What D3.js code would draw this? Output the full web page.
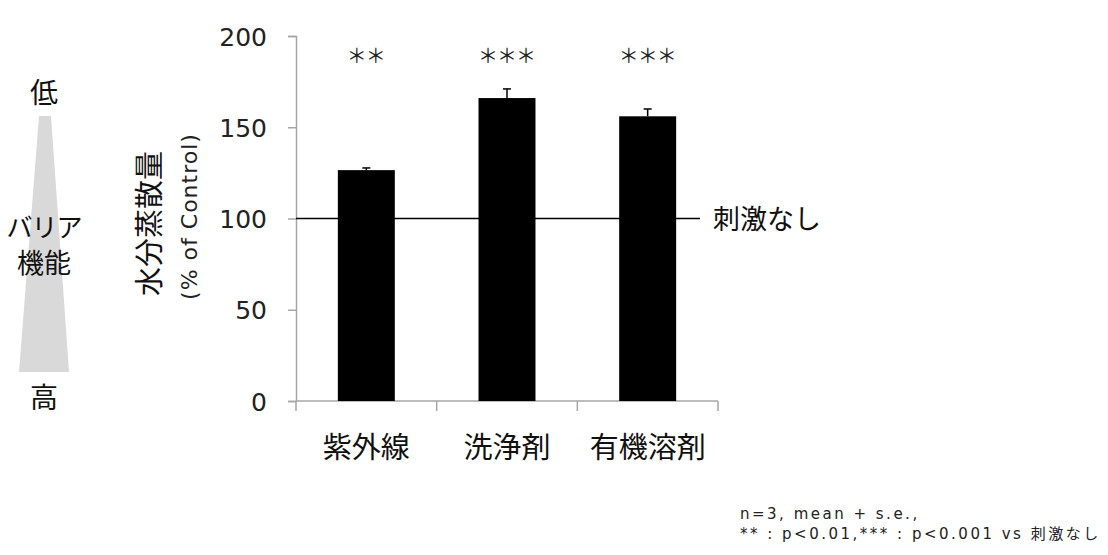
<!DOCTYPE html>
<html><head><meta charset="utf-8">
<script src="https://cdn.jsdelivr.net/npm/d3@7"></script>
<style>body{margin:0;background:#fff}svg{display:block}.cjk{font-family:"Noto Sans CJK JP","Noto Sans",sans-serif}.lat{font-family:"DejaVu Sans","Noto Sans CJK JP",sans-serif}</style>
</head><body><svg width="1108" height="555"></svg>
<script>
const categories = ["紫外線", "洗浄剤", "有機溶剤"];
const means = [126.5, 166, 156];
const errors = [1.2, 5, 4];
const stars = ["**", "***", "***"];
const yTicks = [0, 50, 100, 150, 200];
const baseline = 100;

const svg = d3.select("svg");
const x = d3.scaleBand().domain(categories).range([296, 718]).padding(0);
const y = d3.scaleLinear().domain([0, 200]).range([401, 36]);
const barW = x.bandwidth() * 0.405;

// y axis
const ya = svg.append("g").attr("transform", "translate(296,0)")
  .call(d3.axisLeft(y).tickValues(yTicks).tickSize(8).tickPadding(21));
ya.attr("font-family", null).attr("font-size", null);
ya.select(".domain").attr("stroke", "#a6a6a6").attr("stroke-width", 1.5);
ya.selectAll(".tick line").attr("stroke", "#a6a6a6").attr("stroke-width", 1.5);
ya.selectAll(".tick text").attr("class", "lat").attr("font-size", 25).attr("fill", "#222").attr("dy", "0.36em");

// x axis
const xa = svg.append("g").attr("transform", `translate(0,${y(0)})`);
xa.append("line").attr("x1", 296).attr("x2", 718).attr("stroke", "#a6a6a6").attr("stroke-width", 1.5);
const edges = [296].concat(categories.map(c => x(c) + x.bandwidth()));
xa.selectAll(".xt").data(edges).join("line")
  .attr("x1", d => d).attr("x2", d => d).attr("y1", 0).attr("y2", 10)
  .attr("stroke", "#a6a6a6").attr("stroke-width", 1.5);
xa.selectAll(".xl").data(categories).join("text").attr("class", "cjk")
  .attr("x", d => x(d) + x.bandwidth() / 2).attr("y", 57)
  .attr("text-anchor", "middle").attr("font-size", 29).attr("fill", "#111").text(d => d);

// bars
svg.selectAll(".bar").data(categories).join("rect")
  .attr("x", d => x(d) + (x.bandwidth() - barW) / 2)
  .attr("width", barW)
  .attr("y", (d, i) => y(means[i]))
  .attr("height", (d, i) => y(0) - y(means[i]))
  .attr("fill", "#000");

// error bars
const eg = svg.selectAll(".err").data(categories).join("g");
eg.append("line")
  .attr("x1", d => x(d) + x.bandwidth() / 2).attr("x2", d => x(d) + x.bandwidth() / 2)
  .attr("y1", (d, i) => y(means[i])).attr("y2", (d, i) => y(means[i] + errors[i]))
  .attr("stroke", "#000").attr("stroke-width", 1.5);
eg.append("line")
  .attr("x1", d => x(d) + x.bandwidth() / 2 - 4).attr("x2", d => x(d) + x.bandwidth() / 2 + 4)
  .attr("y1", (d, i) => y(means[i] + errors[i])).attr("y2", (d, i) => y(means[i] + errors[i]))
  .attr("stroke", "#000").attr("stroke-width", 1.5);

// baseline
svg.append("line").attr("x1", 296).attr("x2", 700)
  .attr("y1", y(baseline)).attr("y2", y(baseline)).attr("stroke", "#000").attr("stroke-width", 1.5);
svg.append("text").attr("class", "cjk").attr("x", 713).attr("y", y(baseline) + 10)
  .attr("font-size", 27).attr("fill", "#111").text("刺激なし");

// stars
svg.selectAll(".star").data(categories).join("text").attr("class", "cjk")
  .attr("x", d => x(d) + x.bandwidth() / 2 - 0.5).attr("y", 63)
  .attr("text-anchor", "middle").attr("font-size", 20).attr("letter-spacing", -1).attr("fill", "#222")
  .text((d, i) => stars[i].replace(/\*/g, "＊"));

// y title
const yt = svg.append("g").attr("transform", "translate(160,222) rotate(-90)");
yt.append("text").attr("class", "cjk").attr("text-anchor", "middle").attr("x", -1.5).attr("y", 0).attr("font-size", 29).attr("fill", "#111").text("水分蒸散量");
yt.append("text").attr("class", "lat").attr("text-anchor", "middle").attr("x", 5.5).attr("y", 37)
  .attr("font-size", 22).attr("letter-spacing", 1).attr("fill", "#222")
  .text("(% of Control)");

// left indicator
svg.append("path").attr("d", "M39,116 L51,116 L69,372 L19,372 Z").attr("fill", "#d9d9d9");
const lt = [["低", 103, 28, 0], ["バリア", 237, 26, -1], ["機能", 273, 27, 0], ["高", 408, 28, 0]];
svg.selectAll(".lt").data(lt).join("text").attr("class", "cjk")
  .attr("x", 44).attr("y", d => d[1]).attr("text-anchor", "middle")
  .attr("font-size", d => d[2]).attr("letter-spacing", d => d[3]).attr("fill", "#111").text(d => d[0]);

// footnote
const fn = svg.append("g").attr("font-size", 15).attr("letter-spacing", 2.5).attr("fill", "#222");
fn.append("text").attr("class", "lat").attr("x", 740).attr("y", 519).text("n=3, mean + s.e.,");
fn.append("text").attr("class", "lat").attr("x", 740).attr("y", 539).text("** : p<0.01,*** : p<0.001 vs 刺激なし");
</script></body></html>
